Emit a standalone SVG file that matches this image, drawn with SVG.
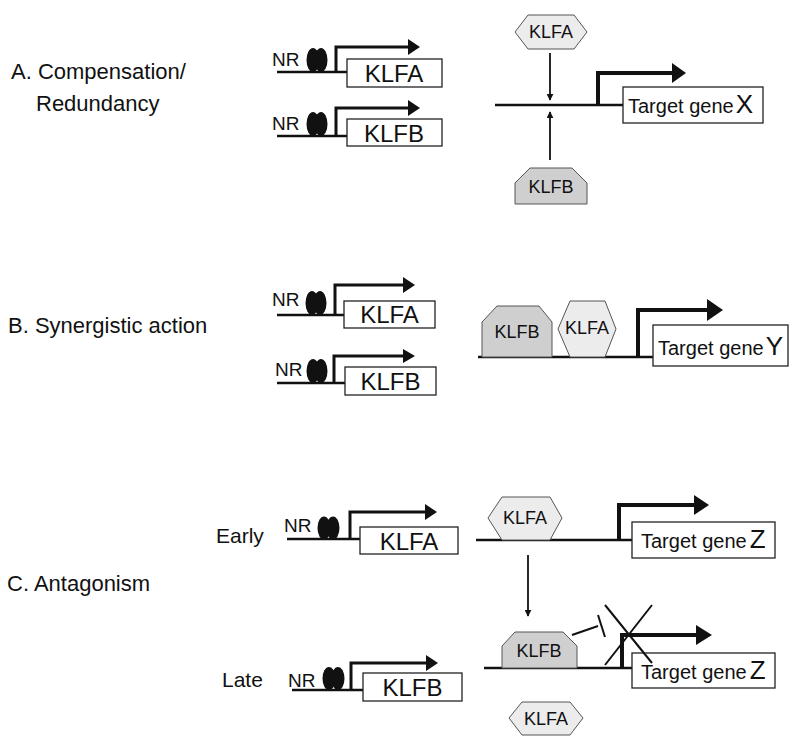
<svg xmlns="http://www.w3.org/2000/svg" width="800" height="754" viewBox="0 0 800 754">
<style>
text{font-family:"Liberation Sans",Arial,sans-serif;fill:#111}
.lbl{font-size:22px}
.nr{font-size:19px}
.gbox{fill:#fff;stroke:#222;stroke-width:1.3}
.gname{font-size:24px;text-anchor:middle}
.dna{stroke:#111;stroke-width:2.5;fill:none}
.prom{stroke:#111;stroke-width:3;fill:none}
.promT{stroke:#111;stroke-width:4;fill:none}
.head{fill:#111}
.ov{fill:#111}
.hexA{fill:#ececec;stroke:#555;stroke-width:1}
.pentB{fill:#cfcfcf;stroke:#555;stroke-width:1}
.ptext{font-size:18px;text-anchor:middle}
.tg{font-size:20px}
.tgl{font-size:26px}
.thin{stroke:#111;stroke-width:1.8;fill:none}
</style>
<defs>
<marker id="ah" viewBox="0 0 10 10" refX="9" refY="5" markerWidth="7" markerHeight="7" markerUnits="userSpaceOnUse" orient="auto"><path d="M0,0 L10,5 L0,10 z" fill="#111"/></marker>
</defs>

<!-- Section labels -->
<g id="labels">
<text class="lbl" x="11" y="79">A. Compensation/</text>
<text class="lbl" x="36" y="111">Redundancy</text>
<text class="lbl" x="8" y="333">B. Synergistic action</text>
<text class="lbl" x="7" y="591">C. Antagonism</text>
<text class="lbl" x="216" y="543" style="font-size:21px">Early</text>
<text class="lbl" x="222" y="687" style="font-size:21px">Late</text>
</g>

<!-- A: KLFA gene -->
<g id="geneA_KLFA">
<text class="nr" x="272" y="66">NR</text>
<line class="dna" x1="277" y1="72" x2="347" y2="72"/>
<ellipse class="ov" cx="313" cy="60" rx="6.5" ry="12"/>
<ellipse class="ov" cx="321" cy="60" rx="6.5" ry="12"/>
<polyline class="prom" points="336,72 336,47 409,47"/>
<polygon class="head" points="408,39 420,47 408,55"/>
<rect class="gbox" x="347" y="59" width="95" height="28"/>
<text class="gname" x="394" y="82">KLFA</text>
</g>

<!-- A: KLFB gene -->
<g id="geneA_KLFB">
<text class="nr" x="272" y="130">NR</text>
<line class="dna" x1="277" y1="136" x2="347" y2="136"/>
<ellipse class="ov" cx="313" cy="124" rx="6.5" ry="12"/>
<ellipse class="ov" cx="321" cy="124" rx="6.5" ry="12"/>
<polyline class="prom" points="336,136 336,108 409,108"/>
<polygon class="head" points="408,100 420,108 408,116"/>
<rect class="gbox" x="347" y="119" width="95" height="27"/>
<text class="gname" x="394" y="142">KLFB</text>
</g>

<!-- A: target X -->
<g id="targetX">
<line class="dna" x1="495" y1="105" x2="623" y2="105"/>
<polyline class="promT" points="598,105 598,73 674,73"/>
<polygon class="head" points="672,63 686,73 672,83"/>
<rect class="gbox" x="623" y="87" width="140" height="36"/>
<text x="628" y="113"><tspan class="tg">Target gene</tspan><tspan class="tgl" dx="2">X</tspan></text>
</g>
<g id="A_KLFA_protein">
<polygon class="hexA" points="515,32 528,15 574,15 587,32 574,49 528,49"/>
<text class="ptext" x="551" y="38">KLFA</text>
</g>
<g id="A_KLFB_protein">
<polygon class="pentB" points="515,204 515,183 530,168 572,168 587,183 587,204"/>
<text class="ptext" x="551" y="193">KLFB</text>
</g>

<!-- B -->
<g id="geneB_KLFA">
<text class="nr" x="272" y="306">NR</text>
<line class="dna" x1="277" y1="315" x2="344" y2="315"/>
<ellipse class="ov" cx="312" cy="303" rx="6.5" ry="12"/>
<ellipse class="ov" cx="320" cy="303" rx="6.5" ry="12"/>
<polyline class="prom" points="335,315 335,285 404,285"/>
<polygon class="head" points="403,277 415,285 403,293"/>
<rect class="gbox" x="344" y="301" width="91" height="27"/>
<text class="gname" x="389.5" y="323">KLFA</text>
</g>
<g id="geneB_KLFB">
<text class="nr" x="275" y="376">NR</text>
<line class="dna" x1="277" y1="383" x2="345" y2="383"/>
<ellipse class="ov" cx="313" cy="371" rx="6.5" ry="12"/>
<ellipse class="ov" cx="321" cy="371" rx="6.5" ry="12"/>
<polyline class="prom" points="334,383 334,356 404,356"/>
<polygon class="head" points="403,349 415,356 403,363"/>
<rect class="gbox" x="345" y="367" width="91" height="28"/>
<text class="gname" x="390.5" y="390">KLFB</text>
</g>
<g id="targetY">
<line class="dna" x1="478" y1="357" x2="653" y2="357"/>
<polyline class="promT" points="638,357 638,310 709,310"/>
<polygon class="head" points="707,299 723,310 707,321"/>
<rect class="gbox" x="653" y="325" width="135" height="41"/>
<text x="658" y="355"><tspan class="tg">Target gene</tspan><tspan class="tgl" dx="2">Y</tspan></text>
</g>
<g id="B_KLFB_protein">
<polygon class="pentB" points="482,357 482,322 497,306 539,306 552,322 552,357"/>
<text class="ptext" x="517" y="338">KLFB</text>
</g>
<g id="B_KLFA_protein">
<polygon class="hexA" points="558,329 570,301 605,301 616,329 605,357 570,357"/>
<text class="ptext" x="587" y="334">KLFA</text>
</g>

<!-- C Early -->
<g id="geneC_KLFA">
<text class="nr" x="284" y="532">NR</text>
<line class="dna" x1="287" y1="539" x2="360" y2="539"/>
<ellipse class="ov" cx="324" cy="528" rx="6.5" ry="11.5"/>
<ellipse class="ov" cx="333" cy="528" rx="6.5" ry="11.5"/>
<polyline class="prom" points="350,539 350,512 426,512"/>
<polygon class="head" points="425,504 437,512 425,520"/>
<rect class="gbox" x="360" y="527" width="98" height="27"/>
<text class="gname" x="409" y="550">KLFA</text>
</g>
<g id="targetZ_early">
<line class="dna" x1="476" y1="540" x2="632" y2="540"/>
<polyline class="promT" points="619,540 619,505 696,505"/>
<polygon class="head" points="694,495 709,505 694,515"/>
<rect class="gbox" x="632" y="522" width="143" height="36"/>
<text x="641" y="548"><tspan class="tg">Target gene</tspan><tspan class="tgl" dx="3">Z</tspan></text>
</g>
<g id="C_KLFA_top">
<polygon class="hexA" points="488,518 502,497 550,497 562,518 550,540 502,540"/>
<text class="ptext" x="525" y="524">KLFA</text>
</g>

<!-- C Late -->
<g id="geneC_KLFB">
<text class="nr" x="288" y="687">NR</text>
<line class="dna" x1="292" y1="690" x2="363" y2="690"/>
<ellipse class="ov" cx="329" cy="678.5" rx="6.5" ry="11.5"/>
<ellipse class="ov" cx="338" cy="678.5" rx="6.5" ry="11.5"/>
<polyline class="prom" points="351,690 351,663 427,663"/>
<polygon class="head" points="426,655 438,663 426,671"/>
<rect class="gbox" x="363" y="673" width="99" height="28"/>
<text class="gname" x="412.5" y="696">KLFB</text>
</g>
<g id="targetZ_late">
<line class="dna" x1="484" y1="668" x2="632" y2="668"/>
<polyline class="promT" points="622,668 622,635 698,635"/>
<polygon class="head" points="696,625 712,635 696,645"/>
<rect class="gbox" x="632" y="653" width="143" height="35"/>
<text x="641" y="679"><tspan class="tg">Target gene</tspan><tspan class="tgl" dx="3">Z</tspan></text>
</g>
<g id="C_KLFB_protein">
<polygon class="pentB" points="502,668 502,646 515,632 563,632 577,646 577,668"/>
<text class="ptext" x="539" y="657">KLFB</text>
</g>
<g id="C_KLFA_bottom">
<polygon class="hexA" points="509,718 522,702 570,702 583,718 570,735 522,735"/>
<text class="ptext" x="546" y="725">KLFA</text>
</g>

<!-- connectors -->
<g id="connectors">
<line class="thin" x1="550" y1="53" x2="550" y2="100" marker-end="url(#ah)"/>
<line class="thin" x1="550" y1="160" x2="550" y2="112" marker-end="url(#ah)"/>
<line class="thin" x1="528" y1="555" x2="528" y2="616" marker-end="url(#ah)"/>
<line x1="572" y1="635" x2="598" y2="626" stroke="#111" stroke-width="2"/>
<line x1="598" y1="615" x2="605" y2="637" stroke="#111" stroke-width="2"/>
<line x1="605" y1="605" x2="652" y2="663" stroke="#111" stroke-width="2"/>
<line x1="652" y1="605" x2="605" y2="665" stroke="#111" stroke-width="2"/>
</g>
</svg>
